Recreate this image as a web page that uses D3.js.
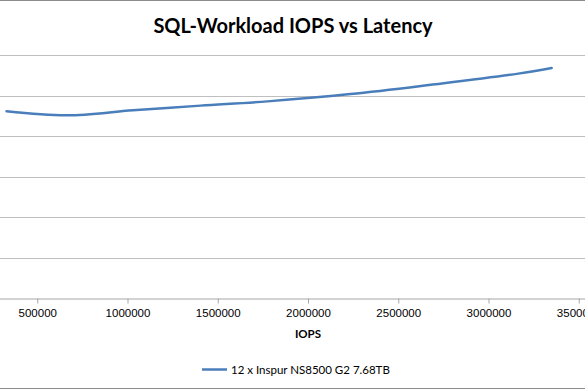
<!DOCTYPE html>
<html>
<head>
<meta charset="utf-8">
<script src="https://cdn.jsdelivr.net/npm/d3@7"></script>
<style>
  body { margin: 0; background: #fff; }
  svg { display: block; font-family: Lato, "Open Sans", sans-serif; }
</style>
</head>
<body>
<div id="chart"></div>
<script>
// data
const iops = [330000, 665000, 1030000, 1405000, 1775000, 2235000, 2680000, 3165000, 3350000];
const latency = [0.922, 0.902, 0.927, 0.950, 0.971, 1.007, 1.053, 1.108, 1.136];
// only the ticks that fall inside the visible part of the cropped plot
const xTicks = [500000, 1000000, 1500000, 2000000, 2500000, 3000000, 3500000];
const yTicks = [0, 0.2, 0.4, 0.6, 0.8, 1.0, 1.2];
const seriesName = '12 x Inspur NS8500 G2 7.68TB';

const width = 585, height = 390;
// plot area runs past the left/right edges (picture is cropped)
const plot = {l: -53, r: 669, t: 55, b: 298};

const svg = d3.select('#chart').append('svg')
    .attr('width', width)
    .attr('height', height);

// outer chart border
svg.append('rect')
    .attr('x', -100).attr('y', 0.5)
    .attr('width', 800).attr('height', 388)
    .attr('fill', 'none')
    .attr('stroke', '#8c8c8c');

const x = d3.scaleLinear().domain([0, 4000000]).range([plot.l, plot.r]);
const y = d3.scaleLinear().domain([0, 1.2]).range([plot.b, plot.t]);

// gridlines
svg.append('g')
    .selectAll('line')
    .data(yTicks.slice(1))
    .enter()
    .append('line')
    .attr('x1', plot.l).attr('x2', plot.r)
    .attr('y1', d => Math.round(y(d)) + 0.5)
    .attr('y2', d => Math.round(y(d)) + 0.5)
    .attr('stroke', '#bfbfbf')
    .attr('stroke-width', 1);

// x axis
const xAxis = svg.append('g')
    .attr('transform', `translate(0,${Math.round(plot.b) + 0.5})`)
    .call(d3.axisBottom(x).tickValues(xTicks).tickSize(5).tickPadding(5).tickFormat(d3.format('d')));
xAxis.select('.domain').attr('stroke', '#a6a6a6');
xAxis.selectAll('.tick line').attr('stroke', '#a6a6a6');
xAxis.selectAll('.tick text')
    .attr('fill', '#000')
    .style('font-size', '11.5px');

// axis title
svg.append('text')
    .attr('x', (plot.l + plot.r) / 2)
    .attr('y', 338)
    .attr('text-anchor', 'middle')
    .style('font-size', '11.5px')
    .style('font-weight', 'bold')
    .text('IOPS');

// chart title
svg.append('text')
    .attr('x', 293)
    .attr('y', 33)
    .attr('text-anchor', 'middle')
    .style('font-size', '20px')
    .style('font-weight', 'bold')
    .text('SQL-Workload IOPS vs Latency');

// series
const points = iops.map((v, i) => [v, latency[i]]);
const line = d3.line()
    .x(d => x(d[0]))
    .y(d => y(d[1]))
    .curve(d3.curveCatmullRom.alpha(0.5));

svg.append('path')
    .datum(points)
    .attr('d', line)
    .attr('fill', 'none')
    .attr('stroke', '#4a7ebb')
    .attr('stroke-width', 2.5)
    .attr('stroke-linecap', 'round');

// legend
const legend = svg.append('g').attr('transform', 'translate(202,369.5)');
legend.append('line')
    .attr('x1', 0).attr('x2', 25)
    .attr('stroke', '#4a7ebb')
    .attr('stroke-width', 2.5);
legend.append('text')
    .attr('x', 29)
    .attr('y', 4.5)
    .style('font-size', '11.5px')
    .text(seriesName);
</script>
</body>
</html>
